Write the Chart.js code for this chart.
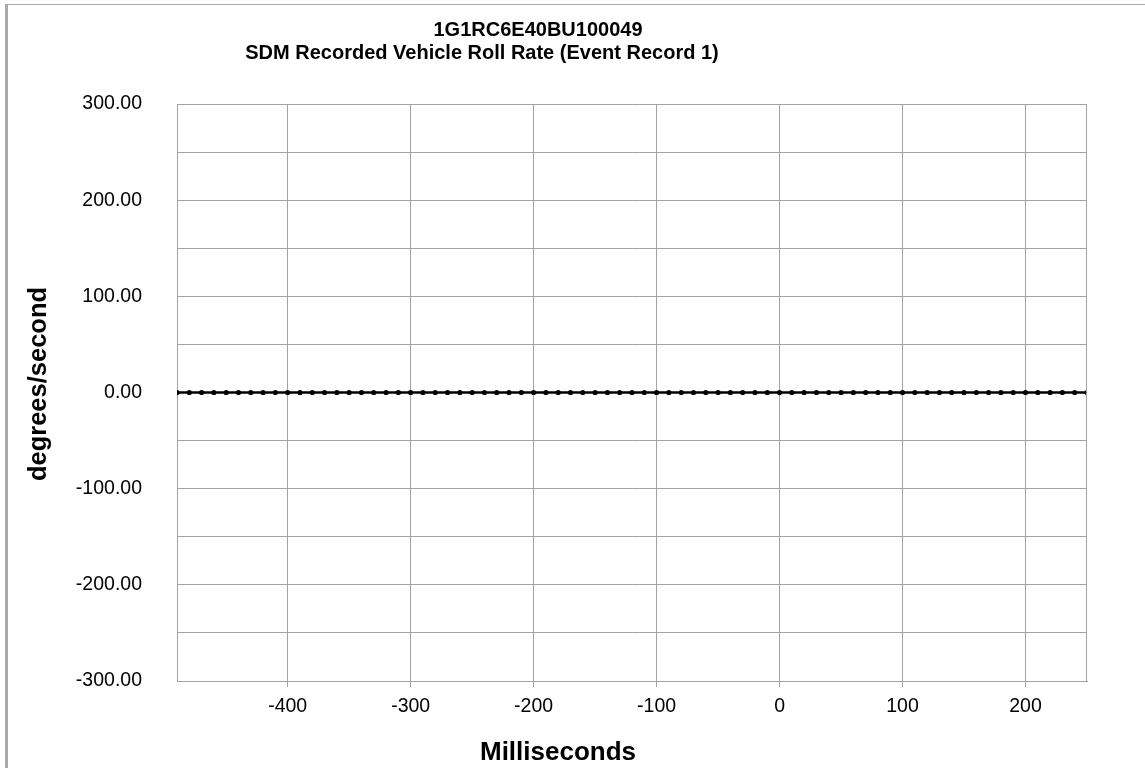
<!DOCTYPE html>
<html>
<head>
<meta charset="utf-8">
<script src="https://cdn.jsdelivr.net/npm/chart.js@4.4.1/dist/chart.umd.min.js"></script>
<style>
  html, body { margin: 0; padding: 0; background: #ffffff; }
  #c { display: block; }
</style>
</head>
<body>
<canvas id="c" width="1145" height="768"></canvas>
<script>
const titleLine1 = "1G1RC6E40BU100049";
const titleLine2 = "SDM Recorded Vehicle Roll Rate (Event Record 1)";
const xAxisTitle = "Milliseconds";
const yAxisTitle = "degrees/second";

const timesMs = [
  -490, -480, -470, -460, -450, -440, -430, -420, -410, -400,
  -390, -380, -370, -360, -350, -340, -330, -320, -310, -300,
  -290, -280, -270, -260, -250, -240, -230, -220, -210, -200,
  -190, -180, -170, -160, -150, -140, -130, -120, -110, -100,
  -90, -80, -70, -60, -50, -40, -30, -20, -10, 0,
  10, 20, 30, 40, 50, 60, 70, 80, 90, 100,
  110, 120, 130, 140, 150, 160, 170, 180, 190, 200,
  210, 220, 230, 240, 250
];
const rollRate = [
  0, 0, 0, 0, 0, 0, 0, 0, 0, 0,
  0, 0, 0, 0, 0, 0, 0, 0, 0, 0,
  0, 0, 0, 0, 0, 0, 0, 0, 0, 0,
  0, 0, 0, 0, 0, 0, 0, 0, 0, 0,
  0, 0, 0, 0, 0, 0, 0, 0, 0, 0,
  0, 0, 0, 0, 0, 0, 0, 0, 0, 0,
  0, 0, 0, 0, 0, 0, 0, 0, 0, 0,
  0, 0, 0, 0, 0
];
const xTickValues = [-400, -300, -200, -100, 0, 100, 200];
const yGridValues = [-300, -250, -200, -150, -100, -50, 0, 50, 100, 150, 200, 250, 300];
const yLabelValues = [-300, -200, -100, 0, 100, 200, 300];

const GRID = '#a3a3a3';
const FONT = '"Liberation Sans", Arial, sans-serif';

const decorPlugin = {
  id: 'decor',
  beforeDraw(chart) {
    const ctx = chart.ctx;
    ctx.save();
    ctx.fillStyle = '#ffffff';
    ctx.fillRect(0, 0, chart.width, chart.height);
    ctx.fillStyle = '#a9a9a9';
    ctx.fillRect(5, 4, chart.width - 5, 1);
    ctx.fillRect(5, 4, 3, chart.height - 4);
    ctx.restore();
  },
  afterDatasetsDraw(chart) {
    const ctx = chart.ctx;
    const a = chart.chartArea;
    ctx.save();
    ctx.strokeStyle = GRID;
    ctx.lineWidth = 1;
    ctx.beginPath();
    ctx.moveTo(Math.round(a.right) - 0.5, a.top);
    ctx.lineTo(Math.round(a.right) - 0.5, a.bottom);
    ctx.stroke();
    ctx.restore();
  },
  afterDraw(chart) {
    const ctx = chart.ctx;
    ctx.save();
    ctx.fillStyle = '#000000';
    ctx.textAlign = 'center';
    ctx.textBaseline = 'alphabetic';
    ctx.font = 'bold 20px ' + FONT;
    ctx.fillText(titleLine1, 538, 36);
    ctx.fillText(titleLine2, 482, 59);
    ctx.font = 'bold 26px ' + FONT;
    ctx.fillText(xAxisTitle, 558, 760);
    ctx.translate(46, 384);
    ctx.rotate(-Math.PI / 2);
    ctx.font = 'bold 25.5px ' + FONT;
    ctx.fillText(yAxisTitle, 0, 0);
    ctx.restore();
  }
};

const ctx = document.getElementById('c').getContext('2d');
new Chart(ctx, {
  type: 'line',
  data: {
    datasets: [{
      label: 'Roll Rate',
      data: timesMs.map((t, i) => ({ x: t, y: rollRate[i] })),
      borderColor: '#000000',
      backgroundColor: '#000000',
      borderWidth: 2.5,
      pointRadius: 2.6,
      pointBorderWidth: 0,
      pointBackgroundColor: '#000000',
      tension: 0,
      fill: false
    }]
  },
  options: {
    responsive: false,
    animation: false,
    devicePixelRatio: 1,
    layout: { padding: { top: 104, right: 58, left: 0, bottom: 0 } },
    plugins: {
      legend: { display: false },
      title: { display: false },
      tooltip: { enabled: false }
    },
    scales: {
      x: {
        type: 'linear',
        min: -490,
        max: 250,
        afterBuildTicks(scale) { scale.ticks = xTickValues.map(v => ({ value: v })); },
        afterFit(scale) { scale.height = 87; },
        grid: { color: GRID, lineWidth: 1, drawTicks: true, tickLength: 6, tickColor: GRID },
        border: { display: true, color: GRID, width: 1 },
        ticks: {
          color: '#000000',
          font: { family: FONT, size: 19.5 },
          padding: 8,
          maxRotation: 0,
          callback: (v) => String(v)
        }
      },
      y: {
        type: 'linear',
        min: -300,
        max: 300,
        afterBuildTicks(scale) { scale.ticks = yGridValues.map(v => ({ value: v })); },
        afterFit(scale) { scale.width = 177; },
        grid: { color: GRID, lineWidth: 1, drawTicks: false },
        border: { display: true, color: GRID, width: 1 },
        ticks: {
          color: '#000000',
          font: { family: FONT, size: 19.5 },
          padding: 35,
          autoSkip: false,
          callback: (v) => yLabelValues.includes(v) ? v.toFixed(2) : ''
        }
      }
    }
  },
  plugins: [decorPlugin]
});
</script>
</body>
</html>
